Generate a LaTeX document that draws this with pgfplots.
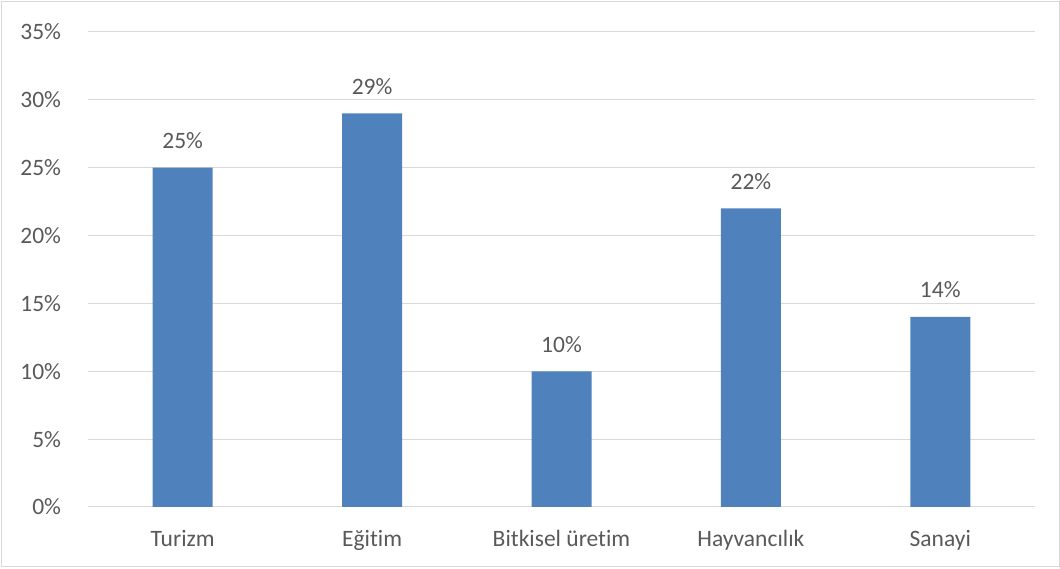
\documentclass[border=0pt]{standalone}
\usepackage{pgfplots}
\pgfplotsset{compat=1.18}
\usepackage{fontspec}
\setmainfont{Carlito}[Ligatures=NoCommon]
\definecolor{barblue}{HTML}{4F81BD}
\definecolor{txtgray}{HTML}{595959}
\definecolor{gridgray}{HTML}{D9D9D9}
\begin{document}
\fontsize{23.5pt}{28pt}\selectfont
\begin{tikzpicture}[x=1pt,y=1pt]
\useasboundingbox (-88,-62) rectangle (972,507);
\draw[gridgray,line width=1pt] (-86,-60) rectangle (971,505);
\begin{axis}[
  at={(0,0)}, anchor=south west,
  scale only axis,
  width=947pt, height=475pt,
  xmin=-0.5, xmax=4.5,
  ymin=0, ymax=35,
  ytick={0,5,...,35},
  yticklabel={\pgfmathprintnumber{\tick}\%},
  xtick={0,1,2,3,4},
  xticklabels={Turizm,Eğitim,Bitkisel üretim,Hayvancılık,Sanayi},
  /pgf/number format/assume math mode=true,
  ymajorgrids,
  grid style={gridgray,line width=1pt},
  axis line style={draw=none},
  axis x line*=bottom,
  x axis line style={gridgray,line width=1pt},
  major tick length=0pt,
  tick style={draw=none},
  ticklabel style={text=txtgray,font=\fontsize{23.5pt}{28pt}\selectfont},
  yticklabel style={xshift=-19pt},
  xticklabel style={yshift=-15pt},
  ybar, bar width=60pt,
  nodes near coords={\pgfmathprintnumber{\pgfplotspointmeta}\%},
  nodes near coords style={text=txtgray,font=\fontsize{23.5pt}{28pt}\selectfont,yshift=11pt},
  point meta=y,
  clip=false,
]
\addplot[fill=barblue,draw=none] coordinates {(0,25) (1,29) (2,10) (3,22) (4,14)};
\end{axis}
\end{tikzpicture}
\end{document}
